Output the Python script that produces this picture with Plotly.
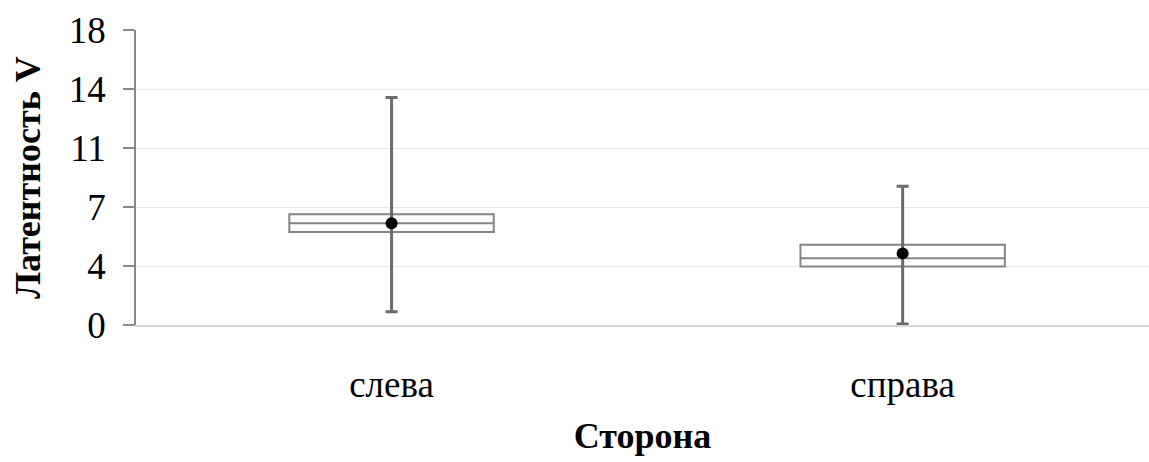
import plotly.graph_objects as go

# Latency V by side: box statistics per group
sides = ["слева", "справа"]
lower_whisker = [0.81, 0.06]
q1 = [5.68, 3.57]
median = [6.21, 4.08]
q3 = [6.76, 4.90]
upper_whisker = [13.88, 8.47]
mean = [6.21, 4.37]

y_tickvals = [0, 3.6, 7.2, 10.8, 14.4, 18]
y_ticktext = ["0", "4", "7", "11", "14", "18"]

SERIF = "Liberation Serif, Times New Roman, serif"

fig = go.Figure()

# Box body (quartiles and median); whiskers are drawn separately below
fig.add_trace(go.Box(
    x=sides,
    q1=q1,
    median=median,
    q3=q3,
    lowerfence=q1,
    upperfence=q3,
    width=0.4,
    whiskerwidth=0,
    fillcolor="white",
    line=dict(color="#858585", width=2),
    boxpoints=False,
    hoverinfo="skip",
    showlegend=False,
))

# Mean marker with whiskers as asymmetric error bars
fig.add_trace(go.Scatter(
    x=sides,
    y=mean,
    mode="markers",
    marker=dict(color="black", size=12),
    error_y=dict(
        type="data",
        symmetric=False,
        array=[u - m for u, m in zip(upper_whisker, mean)],
        arrayminus=[m - l for m, l in zip(mean, lower_whisker)],
        color="#6b6b6b",
        thickness=3,
        width=6,
    ),
    showlegend=False,
))

fig.update_layout(
    width=1149,
    height=462,
    margin=dict(l=136, r=0, t=30, b=137),
    paper_bgcolor="white",
    plot_bgcolor="white",
    font=dict(family=SERIF, color="black"),
    xaxis=dict(
        type="category",
        range=[-0.5, 1.482],
        showgrid=False,
        showline=True,
        linecolor="#d9d9d9",
        linewidth=2,
        ticks="",
        tickfont=dict(size=37, family=SERIF),
        ticklabelstandoff=26,
        title=dict(text="<b>Сторона</b>", font=dict(size=36, family=SERIF), standoff=18),
    ),
    yaxis=dict(
        range=[0, 18],
        tickvals=y_tickvals,
        ticktext=y_ticktext,
        showgrid=True,
        gridcolor="#e6e6e6",
        gridwidth=1,
        zeroline=False,
        showline=True,
        linecolor="#888888",
        linewidth=1.5,
        ticks="outside",
        ticklen=11,
        tickcolor="#888888",
        tickwidth=1.5,
        tickfont=dict(size=37, family=SERIF),
        ticklabelstandoff=10,
        title=dict(text="<b>Латентность V</b>", font=dict(size=36, family=SERIF), standoff=17),
    ),
)

fig.write_html("out.html")
